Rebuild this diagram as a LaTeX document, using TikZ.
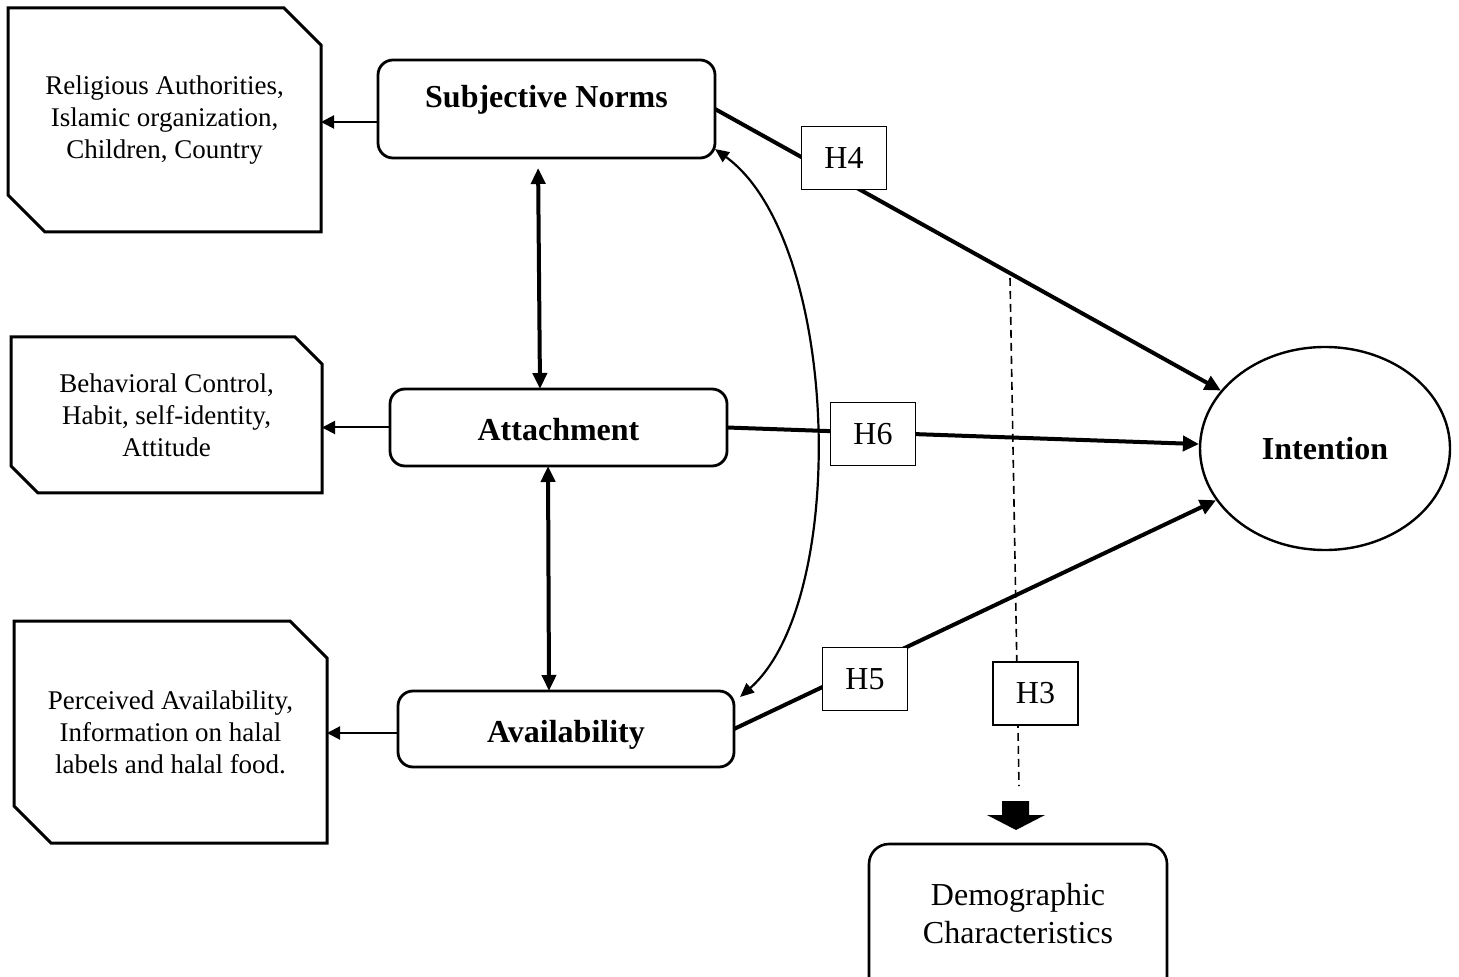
\documentclass[tikz,border=0pt]{standalone}
\usepackage{fontspec}
\setmainfont{Liberation Serif}
\usetikzlibrary{arrows.meta,shapes.geometric}

% outline of a box with its north-east and south-west corners cut off
\newcommand\drawchamfer[2]{%
  \draw[sideline] (#1.north west) -- ([xshift=-#2]#1.north east) -- ([yshift=-#2]#1.north east)
    -- (#1.south east) -- ([xshift=#2]#1.south west) -- ([yshift=#2]#1.south west) -- cycle;}

\tikzset{
  sideline/.style={line width=1.5pt, line join=miter},
  sidetext/.style={font=\fontsize{13.5}{16}\selectfont, align=center, inner sep=0pt, outer sep=0pt},
  factor/.style={draw, line width=1.4pt, rounded corners=7.5pt, inner sep=0pt, outer sep=0pt,
    font=\fontsize{16}{19}\selectfont\bfseries},
  hyp/.style={draw, fill=white, line width=0.75pt, minimum width=42.5pt, minimum height=31.5pt,
    inner sep=0pt, font=\fontsize{16}{19}\selectfont},
  effect/.style={line width=2pt, -{Triangle[length=8pt,width=7.5pt]}},
  link/.style={line width=2pt, {Triangle[length=8pt,width=7pt]}-{Triangle[length=8pt,width=7pt]}},
  pointer/.style={line width=1pt, -{Triangle[length=6.5pt,width=6.5pt]}},
  mutual/.style={line width=1.1pt, {Triangle[length=7pt,width=6pt]}-{Triangle[length=7pt,width=6pt]}},
  moderator/.style={line width=0.8pt, dash pattern=on 4pt off 2.5pt},
}

\begin{document}
\begin{tikzpicture}[x=0.5pt,y=-0.5pt]
\useasboundingbox (0,0) rectangle (1459,977);

% antecedent descriptions
\node[sidetext, minimum width=156.5pt, minimum height=112pt] (rel) at (164.5,120)
  {Religious Authorities,\\Islamic organization,\\Children, Country};
\drawchamfer{rel}{18.5pt}
\node[sidetext, minimum width=155.5pt, minimum height=78pt] (beh) at (166.5,415)
  {Behavioral Control,\\Habit, self-identity,\\Attitude};
\drawchamfer{beh}{13.5pt}
\node[sidetext, minimum width=156.5pt, minimum height=111pt] (per) at (170.5,732)
  {Perceived Availability,\\Information on halal\\labels and halal food.};
\drawchamfer{per}{18.5pt}

% constructs
\node[factor, minimum width=168.5pt, minimum height=49pt, text height=11pt, text depth=12.4pt]
  (sn) at (546.5,109) {Subjective Norms};
\node[factor, minimum width=168.5pt, minimum height=38.5pt, text height=13pt, text depth=0pt]
  (att) at (558.5,427.5) {Attachment};
\node[factor, minimum width=168pt, minimum height=38pt, text height=17pt, text depth=3.5pt]
  (ava) at (566,729) {Availability};
\node[draw, ellipse, line width=1.2pt, minimum width=125pt, minimum height=101.5pt, inner sep=0pt,
  font=\fontsize{16}{19}\selectfont\bfseries] (int) at (1325,448.5) {Intention};

\node[draw, line width=1.3pt, rounded corners=10pt, minimum width=149pt, minimum height=100pt,
  inner sep=0pt] (dem) at (1018,944) {};
\node[font=\fontsize{16}{19}\selectfont, align=center, inner sep=0pt] (demtext) at (1018,913.5)
  {Demographic\\Characteristics};

% constructs to their descriptions
\coordinate (snout) at ([yshift=-6.5pt]sn.west);
\draw[pointer] (snout) -- (snout -| rel.east);
\draw[pointer] (att.west) -- (att.west -| beh.east);
\coordinate (avaout) at ([yshift=-2pt]ava.west);
\draw[pointer] (avaout) -- (avaout -| per.east);

% correlations between constructs
\draw[link, shorten <=5pt] ([xshift=-4.25pt]sn.south) -- ([xshift=-9.25pt]att.north);
\draw[link] ([xshift=-5.25pt]att.south) -- ([xshift=-8.5pt]ava.north);
\draw[mutual] ([yshift=4.5pt]sn.south east) .. controls (840,240) and (850,600)
  .. ([xshift=3pt,yshift=-3pt]ava.north east);

% hypothesised effects on intention
\draw[effect] (sn.east) -- (int);
\draw[effect] (att.east) -- (int);
\draw[effect] (ava.east) -- (int);
\node[hyp] (h4) at (844,158) {H4};
\node[hyp] (h6) at (873,434) {H6};
\node[hyp] (h5) at (865,679) {H5};

% moderation by demographics
\coordinate (modtop) at (1010,278);
\coordinate (modend) at (1019,786);
\draw[moderator] (modtop) -- (modend);
\node[hyp] (h3) at (1035.5,693.5) {H3};
\fill (1002,801) -- (1029,801) -- (1029,815) -- (1045,815) -- (1016,830) -- (987,815) -- (1002,815) -- cycle;
\end{tikzpicture}
\end{document}
